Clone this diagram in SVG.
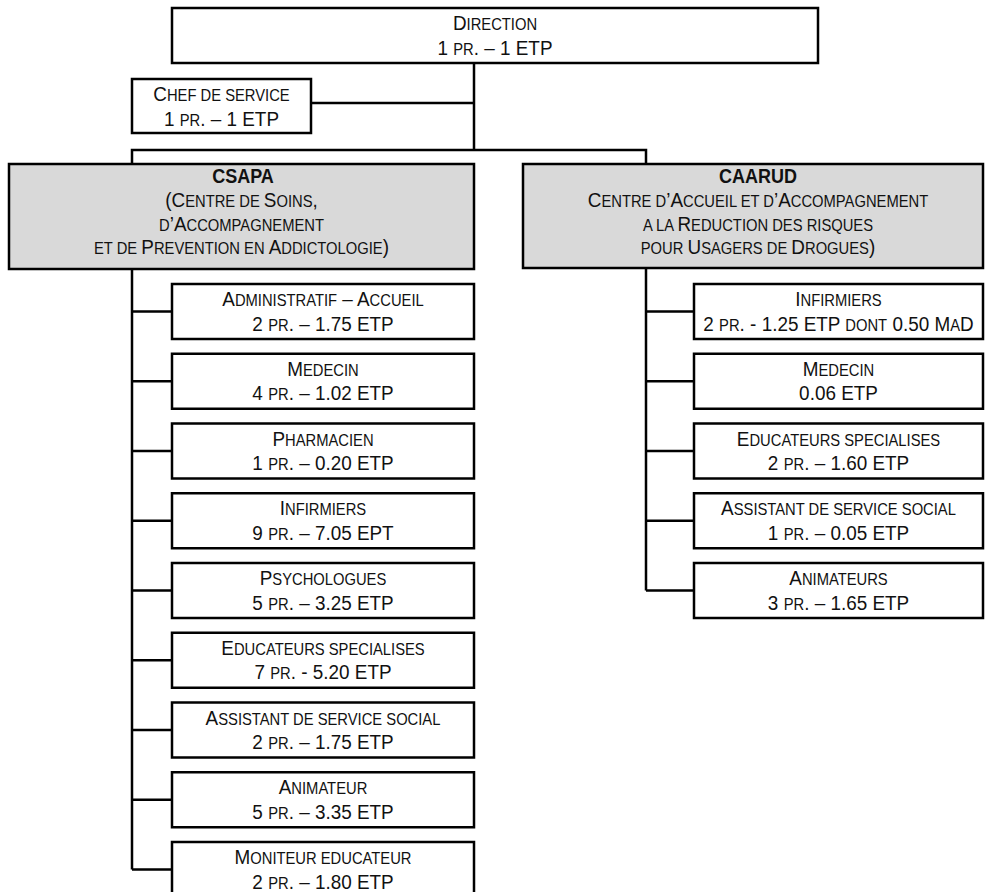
<svg xmlns="http://www.w3.org/2000/svg" width="985" height="892" viewBox="0 0 985 892">
  <style>
    .box { fill: #ffffff; stroke: #000000; stroke-width: 2.5; }
    .head { fill: #d9d9d9; stroke: #000000; stroke-width: 2.5; }
    .link { fill: none; stroke: #000000; stroke-width: 2.5; }
    text { font-family: "Liberation Sans", Arial, sans-serif; font-size: 21px; fill: #111111; text-anchor: middle; }
    .s { font-size: 16.4px; }
    .bold { font-weight: bold; font-size: 20px; }
  </style>

  <!-- connectors -->
  <g id="connectors">
    <path class="link" d="M474,63 V150 M311,103 H474 M132,164 V150 H646 V164"/>
    <!-- CSAPA branch -->
    <path class="link" d="M132,269 V869.5 M132,311.5 H172 M132,381.25 H172 M132,451 H172 M132,520.75 H172 M132,590.5 H172 M132,660.25 H172 M132,730 H172 M132,799.75 H172 M132,869.5 H172"/>
    <!-- CAARUD branch -->
    <path class="link" d="M646,268 V590.5 M646,311.5 H694 M646,381.25 H694 M646,451 H694 M646,520.75 H694 M646,590.5 H694"/>
  </g>

  <!-- top level -->
  <g id="direction">
    <rect class="box" x="172" y="8" width="646" height="55"/>
    <text transform="translate(495 30) scale(0.9 1)">D<tspan class="s">IRECTION</tspan></text>
    <text transform="translate(495 54.5) scale(0.9 1)">1 <tspan class="s">PR</tspan>. – 1 ETP</text>
  </g>
  <g id="chef-de-service">
    <rect class="box" x="132" y="79" width="179" height="54"/>
    <text transform="translate(221.5 101) scale(0.9 1)">C<tspan class="s">HEF DE SERVICE</tspan></text>
    <text transform="translate(221.5 126) scale(0.9 1)">1 <tspan class="s">PR</tspan>. – 1 ETP</text>
  </g>

  <!-- departments -->
  <g id="csapa">
    <rect class="head" x="9" y="164" width="465" height="105"/>
    <text class="bold" transform="translate(243 183) scale(0.9 1)">CSAPA</text>
    <text transform="translate(241.5 207) scale(0.9 1)">(C<tspan class="s">ENTRE DE </tspan>S<tspan class="s">OINS</tspan>,</text>
    <text transform="translate(241.5 230.5) scale(0.9 1)"><tspan class="s">D</tspan>’A<tspan class="s">CCOMPAGNEMENT</tspan></text>
    <text transform="translate(241.5 254) scale(0.9 1)"><tspan class="s">ET DE </tspan>P<tspan class="s">REVENTION EN </tspan>A<tspan class="s">DDICTOLOGIE</tspan>)</text>
  </g>
  <g id="caarud">
    <rect class="head" x="523" y="164" width="460" height="104"/>
    <text class="bold" transform="translate(758 183) scale(0.9 1)">CAARUD</text>
    <text transform="translate(758 207) scale(0.9 1)">C<tspan class="s">ENTRE D</tspan>’A<tspan class="s">CCUEIL ET D</tspan>’A<tspan class="s">CCOMPAGNEMENT</tspan></text>
    <text transform="translate(758 230.5) scale(0.9 1)"><tspan class="s">A LA </tspan>R<tspan class="s">EDUCTION DES RISQUES</tspan></text>
    <text transform="translate(758 254) scale(0.9 1)"><tspan class="s">POUR </tspan>U<tspan class="s">SAGERS DE </tspan>D<tspan class="s">ROGUES</tspan>)</text>
  </g>

  <!-- CSAPA staff -->
  <g id="csapa-administratif">
    <rect class="box" x="172" y="284" width="302" height="55"/>
    <text transform="translate(323 306) scale(0.9 1)">A<tspan class="s">DMINISTRATIF</tspan> – A<tspan class="s">CCUEIL</tspan></text>
    <text transform="translate(323 330.5) scale(0.9 1)">2 <tspan class="s">PR</tspan>. – 1.75 ETP</text>
  </g>
  <g id="csapa-medecin">
    <rect class="box" x="172" y="353.75" width="302" height="55"/>
    <text transform="translate(323 375.75) scale(0.9 1)">M<tspan class="s">EDECIN</tspan></text>
    <text transform="translate(323 400.25) scale(0.9 1)">4 <tspan class="s">PR</tspan>. – 1.02 ETP</text>
  </g>
  <g id="csapa-pharmacien">
    <rect class="box" x="172" y="423.5" width="302" height="55"/>
    <text transform="translate(323 445.5) scale(0.9 1)">P<tspan class="s">HARMACIEN</tspan></text>
    <text transform="translate(323 470) scale(0.9 1)">1 <tspan class="s">PR</tspan>. – 0.20 ETP</text>
  </g>
  <g id="csapa-infirmiers">
    <rect class="box" x="172" y="493.25" width="302" height="55"/>
    <text transform="translate(323 515.25) scale(0.9 1)">I<tspan class="s">NFIRMIERS</tspan></text>
    <text transform="translate(323 539.75) scale(0.9 1)">9 <tspan class="s">PR</tspan>. – 7.05 EPT</text>
  </g>
  <g id="csapa-psychologues">
    <rect class="box" x="172" y="563" width="302" height="55"/>
    <text transform="translate(323 585) scale(0.9 1)">P<tspan class="s">SYCHOLOGUES</tspan></text>
    <text transform="translate(323 609.5) scale(0.9 1)">5 <tspan class="s">PR</tspan>. – 3.25 ETP</text>
  </g>
  <g id="csapa-educateurs">
    <rect class="box" x="172" y="632.75" width="302" height="55"/>
    <text transform="translate(323 654.75) scale(0.9 1)">E<tspan class="s">DUCATEURS SPECIALISES</tspan></text>
    <text transform="translate(323 679.25) scale(0.9 1)">7 <tspan class="s">PR</tspan>. - 5.20 ETP</text>
  </g>
  <g id="csapa-assistant">
    <rect class="box" x="172" y="702.5" width="302" height="55"/>
    <text transform="translate(323 724.5) scale(0.9 1)">A<tspan class="s">SSISTANT DE SERVICE SOCIAL</tspan></text>
    <text transform="translate(323 749) scale(0.9 1)">2 <tspan class="s">PR</tspan>. – 1.75 ETP</text>
  </g>
  <g id="csapa-animateur">
    <rect class="box" x="172" y="772.25" width="302" height="55"/>
    <text transform="translate(323 794.25) scale(0.9 1)">A<tspan class="s">NIMATEUR</tspan></text>
    <text transform="translate(323 818.75) scale(0.9 1)">5 <tspan class="s">PR</tspan>. – 3.35 ETP</text>
  </g>
  <g id="csapa-moniteur">
    <rect class="box" x="172" y="842" width="302" height="55"/>
    <text transform="translate(323 864) scale(0.9 1)">M<tspan class="s">ONITEUR EDUCATEUR</tspan></text>
    <text transform="translate(323 888.5) scale(0.9 1)">2 <tspan class="s">PR</tspan>. – 1.80 ETP</text>
  </g>

  <!-- CAARUD staff -->
  <g id="caarud-infirmiers">
    <rect class="box" x="694" y="284" width="289" height="55"/>
    <text transform="translate(838.5 306) scale(0.9 1)">I<tspan class="s">NFIRMIERS</tspan></text>
    <text transform="translate(838.5 330.5) scale(0.9 1)">2 <tspan class="s">PR</tspan>. - 1.25 ETP <tspan class="s">DONT</tspan> 0.50 M<tspan class="s">A</tspan>D</text>
  </g>
  <g id="caarud-medecin">
    <rect class="box" x="694" y="353.75" width="289" height="55"/>
    <text transform="translate(838.5 375.75) scale(0.9 1)">M<tspan class="s">EDECIN</tspan></text>
    <text transform="translate(838.5 400.25) scale(0.9 1)">0.06 ETP</text>
  </g>
  <g id="caarud-educateurs">
    <rect class="box" x="694" y="423.5" width="289" height="55"/>
    <text transform="translate(838.5 445.5) scale(0.9 1)">E<tspan class="s">DUCATEURS SPECIALISES</tspan></text>
    <text transform="translate(838.5 470) scale(0.9 1)">2 <tspan class="s">PR</tspan>. – 1.60 ETP</text>
  </g>
  <g id="caarud-assistant">
    <rect class="box" x="694" y="493.25" width="289" height="55"/>
    <text transform="translate(838.5 515.25) scale(0.9 1)">A<tspan class="s">SSISTANT DE SERVICE SOCIAL</tspan></text>
    <text transform="translate(838.5 539.75) scale(0.9 1)">1 <tspan class="s">PR</tspan>. – 0.05 ETP</text>
  </g>
  <g id="caarud-animateurs">
    <rect class="box" x="694" y="563" width="289" height="55"/>
    <text transform="translate(838.5 585) scale(0.9 1)">A<tspan class="s">NIMATEURS</tspan></text>
    <text transform="translate(838.5 609.5) scale(0.9 1)">3 <tspan class="s">PR</tspan>. – 1.65 ETP</text>
  </g>
</svg>
